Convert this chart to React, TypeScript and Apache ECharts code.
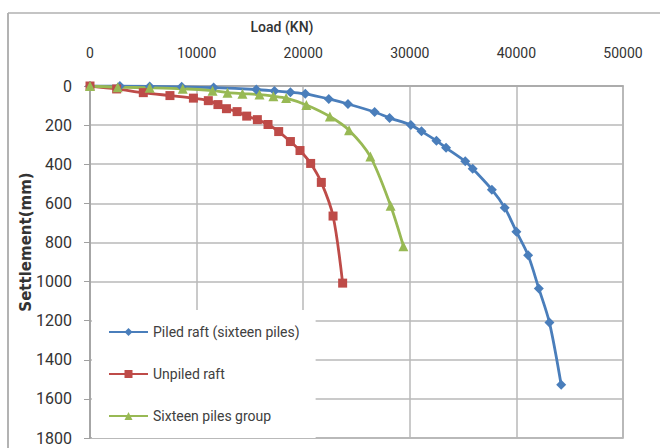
import React, { useEffect, useRef } from "react";
import * as echarts from "echarts";

const xTicks = [0, 10000, 20000, 30000, 40000, 50000];
const yTicks = [0, 200, 400, 600, 800, 1000, 1200, 1400, 1600, 1800];

const seriesNames = ["Piled raft (sixteen piles)", "Unpiled raft", "Sixteen piles group"];

const piledLoad = [0, 2800, 5600, 8600, 11600, 15600, 17300, 18800, 20200, 22400, 24200, 26700, 28100, 30100, 31100, 32500, 33400, 35200, 35900, 37700, 38900, 40000, 41100, 42100, 43100, 44200];
const piledSettle = [0, 0, 2, 4, 8, 18, 25, 32, 40, 66, 92, 133, 163, 200, 232, 280, 316, 385, 423, 530, 622, 745, 866, 1035, 1210, 1528];

const unpiledLoad = [0, 2500, 5000, 7500, 9700, 11100, 12000, 12800, 13800, 14700, 15700, 16700, 17700, 18800, 19700, 20700, 21700, 22800, 23700];
const unpiledSettle = [0, 15, 34, 49, 62, 75, 95, 116, 131, 154, 172, 197, 233, 284, 330, 396, 493, 665, 1008];

const groupLoad = [0, 2600, 5600, 8700, 11500, 12900, 14300, 15900, 17200, 18400, 20300, 22500, 24300, 26300, 28200, 29400];
const groupSettle = [0, 6, 9, 14, 24, 34, 39, 44, 52, 62, 97, 156, 226, 361, 612, 819];

const zip = (xs: number[], ys: number[]) => xs.map((x, i) => [x, ys[i]]);

export default function App() {
  const ref = useRef<HTMLDivElement>(null);
  useEffect(() => {
    if (!ref.current) return;
    const chart = echarts.init(ref.current, undefined, { renderer: "svg" });
    const font = "Roboto";
    const lineSeries = (name: string, data: number[][], color: string, symbol: string, size: number) => ({
      name,
      type: "line",
      data,
      smooth: 0.3,
      symbol,
      symbolSize: size,
      showSymbol: true,
      lineStyle: { color, width: 2.8 },
      itemStyle: { color },
      z: 3,
    });
    chart.setOption({
      animation: false,
      backgroundColor: "#ffffff",
      grid: {
        left: 90,
        right: 37,
        top: 86,
        bottom: 10,
        show: true,
        borderColor: "#a8a8a8",
        borderWidth: 1.5,
        backgroundColor: "#ffffff",
      },
      xAxis: {
        type: "value",
        position: "top",
        min: xTicks[0],
        max: xTicks[xTicks.length - 1],
        interval: 10000,
        axisLine: { show: true, lineStyle: { color: "#a8a8a8", width: 1.5 } },
        axisTick: { show: false },
        axisLabel: { margin: 26, fontFamily: font, fontSize: 14, color: "#333333", formatter: (v: number) => String(v) },
        splitLine: { show: true, lineStyle: { color: "#b8b8b8", width: 1.5 } },
      },
      yAxis: {
        type: "value",
        inverse: true,
        min: yTicks[0],
        max: yTicks[yTicks.length - 1],
        interval: 200,
        axisLine: { show: true, lineStyle: { color: "#a0a0a0", width: 1.5 } },
        axisTick: { show: true, length: 6, lineStyle: { color: "#a0a0a0" } },
        axisLabel: { margin: 18, fontFamily: font, fontSize: 16, color: "#333333", formatter: (v: number) => String(v) },
        splitLine: { show: true, lineStyle: { color: "#b8b8b8", width: 1.5 } },
      },
      legend: {
        orient: "vertical",
        left: 92,
        top: 310,
        padding: [14, 16, 14, 16],
        backgroundColor: "#ffffff",
        itemGap: 26,
        itemWidth: 39,
        itemHeight: 10,
        data: seriesNames,
        textStyle: { fontFamily: font, fontSize: 14, color: "#404040", lineHeight: 16 },
        z: 10,
      },
      graphic: [
        { type: "line", shape: { x1: 8, y1: 13, x2: 8, y2: 448 }, style: { stroke: "#9a9a9a", lineWidth: 1.5 } },
        { type: "line", shape: { x1: 8, y1: 13, x2: 660, y2: 13 }, style: { stroke: "#b0b0b0", lineWidth: 1.5 } },
        {
          type: "text",
          x: 282,
          y: 27,
          style: { text: "Load (KN)", fontFamily: font, fontSize: 14, fontWeight: 500, fill: "#333333", textAlign: "center", textVerticalAlign: "middle" },
        },
        {
          type: "text",
          x: 26,
          y: 242,
          rotation: Math.PI / 2,
          style: { text: "Settlement(mm)", fontFamily: "DejaVu Sans", fontSize: 15, fontWeight: "bold", fill: "#333333", textAlign: "center", textVerticalAlign: "middle" },
        },
      ],
      series: [
        lineSeries(seriesNames[0], zip(piledLoad, piledSettle), "#4a7ebb", "diamond", 10),
        lineSeries(seriesNames[1], zip(unpiledLoad, unpiledSettle), "#be4b48", "rect", 9),
        lineSeries(seriesNames[2], zip(groupLoad, groupSettle), "#98b954", "triangle", 10),
      ],
    });
    return () => chart.dispose();
  }, []);
  return <div ref={ref} style={{ position: "fixed", left: 0, top: 0, width: 660, height: 448 }} />;
}
